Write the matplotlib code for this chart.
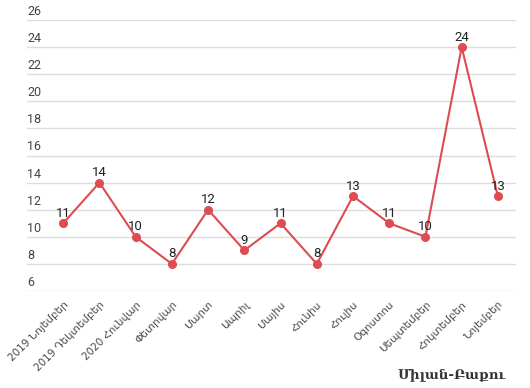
import matplotlib
matplotlib.use('Agg')
import matplotlib.pyplot as plt
import numpy as np

months = ['2019 Նոյեմբեր', '2019 Դեկտեմբեր', '2020 Հունվար', 'Փետրվար', 'Մարտ',
          'Ապրիլ', 'Մայիս', 'Հունիս', 'Հուլիս', 'Օգոստոս', 'Սեպտեմբեր',
          'Հոկտեմբեր', 'Նոյեմբեր']
counts = [11, 14, 10, 8, 12, 9, 11, 8, 13, 11, 10, 24, 13]
yticks = list(range(6, 27, 2))

line_color = '#dc4c52'

fig = plt.figure(figsize=(5.3, 3.88), dpi=100)
ax = fig.add_axes([27 / 530, 1 - 291 / 388, (516 - 27) / 530, (291 - 20) / 388])

idx = np.arange(len(months))
ax.plot(idx, counts, color=line_color, lw=1.5, marker='o', ms=5.5, zorder=3)
for i, v in zip(idx, counts):
    ax.annotate(str(v), (i, v), xytext=(0, 2.5), textcoords='offset points',
                ha='center', va='bottom', fontsize=9.5, color='#222222',
                family='Roboto', zorder=4)

ax.set_xlim(-1, 12.5)
ax.set_ylim(6, 26)
ax.set_yticks(yticks)
ax.set_yticklabels([])
ax.tick_params(axis='y', length=0)
for y in yticks:
    ax.axhline(y, color='#dddddd', lw=1, zorder=1)
    ax.annotate(str(y), (0, y), xycoords=ax.get_yaxis_transform(),
                xytext=(0, 1.5), textcoords='offset points', ha='left', va='bottom',
                fontsize=9, color='#444444', family='Roboto')

ax.set_xticks(idx)
ax.set_xticklabels(months, rotation=45, ha='right', rotation_mode='anchor',
                   fontsize=7.5, color='#444444', family='DejaVu Sans')
ax.tick_params(axis='x', length=0, pad=6)

for s in ax.spines.values():
    s.set_visible(False)

fig.text(452 / 530, 1 - 375 / 388, 'Միլան-Բաքու', ha='center', va='center',
         fontsize=9.5, fontweight='bold', family='DejaVu Serif', color='#333333')

fig.savefig('out.png', dpi=100)
